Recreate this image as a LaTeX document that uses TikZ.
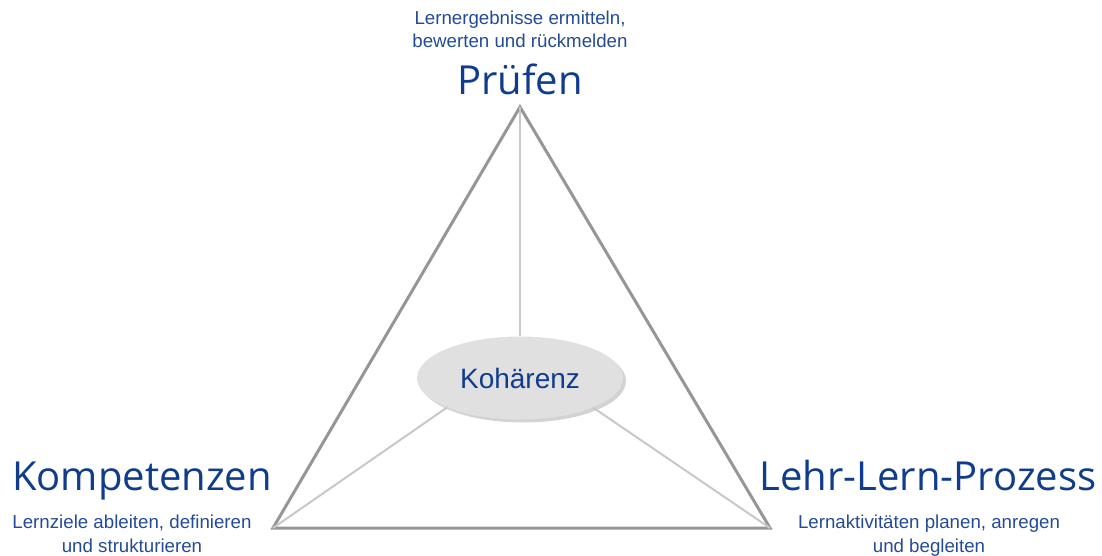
\documentclass[tikz,border=0pt]{standalone}
\usepackage{fontspec}
\setmainfont{Liberation Sans}
\newfontfamily\bigfont{Open Sans}
\usetikzlibrary{shadows,shapes.geometric}
\definecolor{dblue}{RGB}{16,60,140}
\definecolor{sblue}{RGB}{35,75,150}
\definecolor{trigray}{RGB}{150,150,150}
\definecolor{ingray}{RGB}{200,200,200}
\definecolor{ellfill}{RGB}{224,224,224}
\begin{document}
\begin{tikzpicture}[x=1pt,y=-1pt,
  title/.style={font=\bigfont\fontsize{40}{40}\selectfont, text=dblue, inner sep=0pt},
  sub/.style={font=\fontsize{18.7}{23.5}\selectfont, text=sblue, align=center, inner sep=0pt},
  edge/.style={draw=trigray, line width=3pt, line join=miter},
  spoke/.style={draw=ingray, line width=2pt}]
\useasboundingbox (0,0) rectangle (1102,556);
\coordinate (T) at (520,107);
\coordinate (L) at (273,528);
\coordinate (R) at (770,528);
\draw[edge] (T) -- (L) -- (R) -- cycle;
\node[ellipse, fill=ellfill, minimum width=206pt, minimum height=83pt, inner sep=0pt,
  drop shadow={shadow xshift=3pt, shadow yshift=-3pt, opacity=0.35, fill=gray}] (K) at (520,378) {};
\draw[spoke] (T) -- (K.north);
\draw[spoke] (L) -- (K.south west);
\draw[spoke] (R) -- (K.south east);
\node[font=\fontsize{28}{28}\selectfont, text=dblue] (kt) at (K.center) {Kohärenz};
\node[title, anchor=base] (p) at (520,95) {Prüfen};
\node[sub, anchor=base] (ps) at (520,48) {Lernergebnisse ermitteln,\\bewerten und rückmelden};
\node[title, anchor=base] (k) at (142,490) {Kompetenzen};
\node[sub, anchor=base] (ks) at (132,552) {Lernziele ableiten, definieren\\und strukturieren};
\node[title, anchor=base] (l) at (928,490) {Lehr-Lern-Prozess};
\node[sub, anchor=base] (ls) at (929,552) {Lernaktivitäten planen, anregen\\und begleiten};
\end{tikzpicture}
\end{document}
